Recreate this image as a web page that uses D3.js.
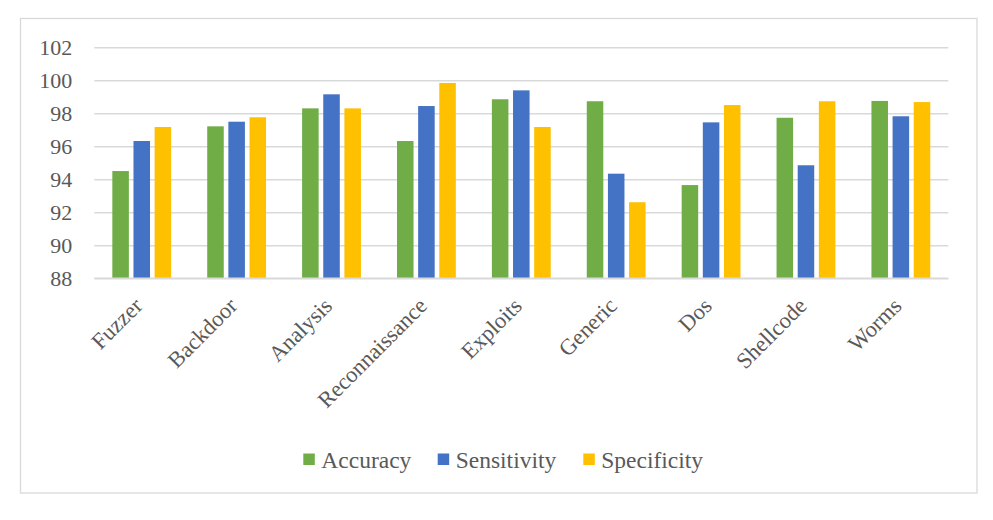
<!DOCTYPE html>
<html>
<head>
<meta charset="utf-8">
<script src="https://cdn.jsdelivr.net/npm/d3@7"></script>
<style>
  html, body { margin: 0; padding: 0; background: #fff; }
</style>
</head>
<body>
<svg id="chart" width="993" height="520"></svg>
<script>
const categories = ["Fuzzer", "Backdoor", "Analysis", "Reconnaissance", "Exploits", "Generic", "Dos", "Shellcode", "Worms"];
const seriesNames = ["Accuracy", "Sensitivity", "Specificity"];
const seriesColors = ["#70AD47", "#4472C4", "#FFC000"];
const accuracy    = [94.50, 97.21, 98.30, 96.32, 98.85, 98.73, 93.65, 97.73, 98.75];
const sensitivity = [96.32, 97.49, 99.15, 98.44, 99.39, 94.34, 97.45, 94.85, 97.82];
const specificity = [97.17, 97.76, 98.30, 99.84, 97.17, 92.61, 98.50, 98.73, 98.68];
const yTicks = [88, 90, 92, 94, 96, 98, 100, 102];

(function () {
const FONT = "Liberation Serif, Tinos, DejaVu Serif, Times New Roman, serif";
const seriesValues = [accuracy, sensitivity, specificity];
const svg = d3.select("#chart");

svg.append("rect")
  .attr("x", 20.5).attr("y", 18.5)
  .attr("width", 956.5).attr("height", 474.5)
  .attr("fill", "#fff").attr("stroke", "#D9D9D9").attr("stroke-width", 1.3);

const pLeft = 94.3, pRight = 948.3, pTop = 47.3, pBottom = 278.3;

const y = d3.scaleLinear().domain([88, 102]).range([pBottom, pTop]);
const x0 = d3.scaleBand().domain(categories).range([pLeft, pRight]).paddingInner(0).paddingOuter(0);
const step = x0.bandwidth();
const x1 = d3.scaleBand().domain(seriesNames)
  .range([step * 0.19, step * 0.81]).paddingInner(0.218).paddingOuter(0);

const yAxis = d3.axisLeft(y).tickValues(yTicks).tickSize(-(pRight - pLeft)).tickPadding(22).tickFormat(d3.format("d"));
const ga = svg.append("g").attr("transform", `translate(${pLeft},0)`).call(yAxis)
  .attr("font-family", FONT).attr("font-size", 22);
ga.select(".domain").remove();
ga.selectAll(".tick line").attr("stroke", "#D9D9D9").attr("stroke-width", 1.5);
ga.selectAll(".tick text").attr("fill", "#595959");

const groups = svg.append("g").selectAll("g")
  .data(categories)
  .join("g")
  .attr("transform", d => `translate(${x0(d)},0)`);

groups.selectAll("rect")
  .data((d, i) => seriesNames.map((s, j) => ({ s, j, v: seriesValues[j][i] })))
  .join("rect")
  .attr("x", d => x1(d.s))
  .attr("y", d => y(d.v))
  .attr("width", x1.bandwidth())
  .attr("height", d => y(88) - y(d.v))
  .attr("fill", d => seriesColors[d.j]);

svg.append("line").attr("x1", pLeft).attr("x2", pRight)
  .attr("y1", y(88)).attr("y2", y(88))
  .attr("stroke", "#D9D9D9").attr("stroke-width", 1.5);

const xAxis = d3.axisBottom(x0).tickSize(0).tickPadding(0);
const gx = svg.append("g").attr("transform", `translate(0,${pBottom})`).call(xAxis)
  .attr("font-family", FONT).attr("font-size", 22.5);
gx.select(".domain").remove();
gx.selectAll(".tick text")
  .attr("fill", "#595959")
  .attr("text-anchor", "end")
  .attr("dy", null)
  .attr("y", 0)
  .attr("transform", "translate(2,29) rotate(-45)");

const legendX = [303.3, 437.7, 583.3];
const legend = svg.append("g").attr("font-family", FONT).attr("font-size", 23.5);
seriesNames.forEach((s, j) => {
  legend.append("rect")
    .attr("x", legendX[j]).attr("y", 453.5)
    .attr("width", 11.5).attr("height", 11.5)
    .attr("fill", seriesColors[j]);
  legend.append("text")
    .attr("x", legendX[j] + 18).attr("y", 467.5)
    .attr("fill", "#595959")
    .text(s);
});
})();
</script>
</body>
</html>
